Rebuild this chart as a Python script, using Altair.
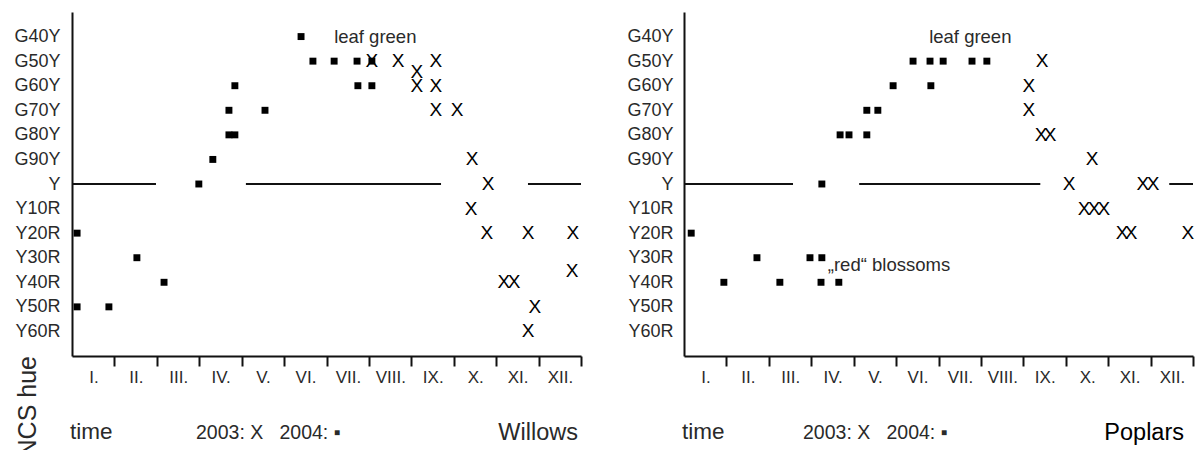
import altair as alt
import pandas as pd

# NCS hue steps: -6 .. 6
hue_labels = ["Y60R", "Y50R", "Y40R", "Y30R", "Y20R", "Y10R", "Y",
              "G90Y", "G80Y", "G70Y", "G60Y", "G50Y", "G40Y"]
months = ["I.", "II.", "III.", "IV.", "V.", "VI.", "VII.", "VIII.", "IX.", "X.", "XI.", "XII."]

# ---- Willows ----
w04_month = [0.12, 0.12, 0.87, 1.53, 2.17, 2.99, 3.32, 3.70, 3.84, 3.70, 4.55, 3.84,
             5.40, 5.68, 6.18, 6.72, 7.07, 6.74, 7.07]
w04_hue = [-2, -5, -5, -3, -4, 0, 1, 2, 2, 3, 3, 4,
           6, 5, 5, 5, 5, 4, 4]
w03_month = [7.07, 7.69, 8.58, 8.13, 8.13, 8.58, 8.58, 9.08, 9.43, 9.81, 9.41,
             9.78, 10.75, 11.81, 11.79, 10.18, 10.42, 10.91, 10.75]
w03_hue = [5, 5, 5, 4.55, 4.0, 4, 3, 3, 1, 0, -1,
           -2, -2, -2, -3.55, -4, -4, -5, -6]
w_line_start = [0, 4.10, 10.75]
w_line_end = [1.98, 8.70, 12]
w_note_text = ["leaf green"]
w_note_month = [6.18]
w_note_hue = [6]

# ---- Poplars ----
p04_month = [0.17, 0.94, 2.26, 3.23, 3.65, 1.72, 2.97, 3.25, 3.25,
             3.68, 3.89, 4.31, 4.31, 4.57, 4.93, 5.82,
             5.40, 5.80, 6.11, 6.79, 7.14]
p04_hue = [-2, -4, -4, -4, -4, -3, -3, -3, 0,
           2, 2, 2, 3, 3, 4, 4,
           5, 5, 5, 5, 5]
p03_month = [8.44, 8.13, 8.13, 8.42, 8.63, 9.62, 9.08, 10.82, 11.06,
             9.43, 9.67, 9.90, 10.33, 10.54, 11.88]
p03_hue = [5, 4, 3, 2, 2, 1, 0, 0, 0,
           -1, -1, -1, -2, -2, -2]
p_line_start = [0, 4.13, 11.44]
p_line_end = [2.57, 8.40, 12]
p_note_text = ["leaf green", "\u201ered\u201c blossoms"]
p_note_month = [5.78, 3.39]
p_note_hue = [6, -3.3]

FONT = "Liberation Sans"
INK = "#111111"
TXT = "#2a2a2a"


def panel(sq_m, sq_h, x_m, x_h, l_a, l_b, n_t, n_m, n_h, name, name_color, with_ncs, lab_pad):
    xscale = alt.Scale(domain=[0, 12], nice=False, zero=False)
    yscale = alt.Scale(domain=[-7, 7], nice=False, zero=False)
    month_arr = "[" + ",".join("'%s'" % m for m in months) + "]"
    hue_arr = "[" + ",".join("'%s'" % h for h in hue_labels) + "]"
    xaxis = alt.Axis(values=list(range(1, 13)), labelExpr=month_arr + "[datum.value-1]",
                     labelOffset=-21, tickSize=10, tickWidth=2, tickColor=INK,
                     domainColor=INK, domainWidth=2, labelFontSize=17, labelColor=TXT,
                     labelFont=FONT, labelPadding=3, title=None, grid=False,
                     labelFlush=False, labelOverlap=False)
    yaxis = alt.Axis(values=list(range(-6, 7)), labelExpr=hue_arr + "[datum.value+6]",
                     ticks=False, domainColor=INK, domainWidth=2, labelFontSize=18,
                     labelColor=TXT, labelFont=FONT, labelPadding=lab_pad, title=None,
                     grid=False, labelFlush=False, labelOverlap=False)
    X = alt.X("month:Q", scale=xscale, axis=xaxis)
    Y = alt.Y("hue:Q", scale=yscale, axis=yaxis)

    seg = pd.DataFrame({"month": l_a, "month_end": l_b, "hue": [0] * len(l_a)})
    sq = pd.DataFrame({"month": sq_m, "hue": sq_h})
    xs = pd.DataFrame({"month": x_m, "hue": x_h})
    notes = pd.DataFrame({"month": n_m, "hue": n_h, "label": n_t})

    layers = [
        alt.Chart(seg).mark_rule(color=INK, strokeWidth=2).encode(x=X, x2="month_end:Q", y=Y),
        alt.Chart(sq).mark_point(shape="square", filled=True, size=48, color="#000000", opacity=1).encode(x=X, y=Y),
        alt.Chart(xs).mark_text(text="X", font=FONT, fontSize=19, color="#000000", baseline="middle").encode(x=X, y=Y),
        alt.Chart(notes).mark_text(font=FONT, fontSize=18.5, color=TXT, align="left", baseline="middle").encode(x=X, y=Y, text="label:N"),
    ]
    bottom = pd.DataFrame({"t": ["time"]})
    layers.append(alt.Chart(bottom).mark_text(font=FONT, fontSize=22.5, color=TXT, align="left", baseline="alphabetic").encode(
        x=alt.value(-2), y=alt.value(427), text="t:N"))
    leg = pd.DataFrame({"t": ["2003: X\u00a0\u00a0\u00a02004: \u25aa"]})
    layers.append(alt.Chart(leg).mark_text(font=FONT, fontSize=19.5, color=TXT, align="left", baseline="alphabetic").encode(
        x=alt.value(124 if with_ncs else 119), y=alt.value(427), text="t:N"))
    nm = pd.DataFrame({"t": [name]})
    layers.append(alt.Chart(nm).mark_text(font=FONT, fontSize=23.5, color=name_color, align="right", baseline="alphabetic").encode(
        x=alt.value(506 if with_ncs else 500), y=alt.value(428), text="t:N"))
    if with_ncs:
        ncs = pd.DataFrame({"t": ["NCS hue"]})
        layers.append(alt.Chart(ncs).mark_text(font=FONT, fontSize=25, color=TXT, angle=270, align="right", baseline="alphabetic").encode(
            x=alt.value(-36), y=alt.value(344), text="t:N"))
    return alt.layer(*layers).properties(width=509, height=344)


left = panel(w04_month, w04_hue, w03_month, w03_hue, w_line_start, w_line_end,
             w_note_text, w_note_month, w_note_hue, "Willows", "#2a2a2a", True, 12)
right = panel(p04_month, p04_hue, p03_month, p03_hue, p_line_start, p_line_end,
              p_note_text, p_note_month, p_note_hue, "Poplars", "#000000", False, 11)

chart = alt.hconcat(left, right, spacing=103, bounds="flush").properties(
    padding={"left": 13, "top": 12, "right": 0, "bottom": 0},
    background="white",
).configure_view(stroke=None)

chart.save("out.html", embed_options={"renderer": "svg", "actions": False})
